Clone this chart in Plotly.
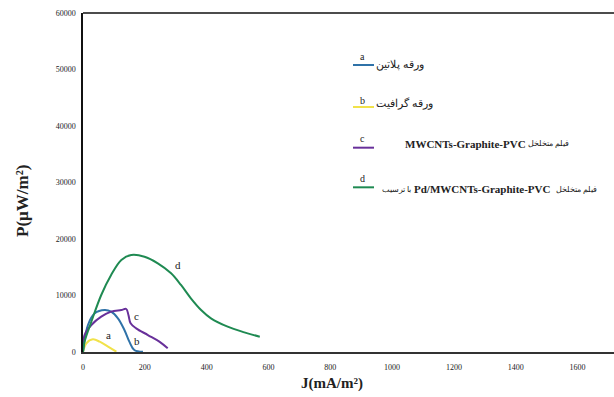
import plotly.graph_objects as go

# Power density P (µW/m²) versus current density J (mA/m²)
j_a = [0, 11, 32, 54, 81, 108]
p_a = [0, 1540, 2240, 1830, 940, 50]

j_b = [0, 16, 38, 70, 91, 113, 134, 150, 166, 194]
p_b = [0, 4780, 6840, 7430, 7140, 5960, 3900, 1830, 350, 50]

j_c = [0, 5, 27, 59, 91, 124, 140, 147, 154, 172, 210, 247, 274]
p_c = [0, 3000, 4780, 6250, 7140, 7430, 7610, 6550, 5080, 4190, 3000, 1830, 650]

j_d = [0, 5, 27, 59, 91, 124, 156, 199, 242, 285, 317, 349, 382, 414, 468, 522, 572]
p_d = [0, 1830, 5360, 10090, 13630, 16290, 17170, 16870, 15700, 13930,
       11860, 9500, 7430, 5960, 4480, 3480, 2710]

x_ticks = [0, 200, 400, 600, 800, 1000, 1200, 1400, 1600]
y_ticks = [0, 10000, 20000, 30000, 40000, 50000, 60000]

series = [
    (j_a, p_a, "#f1e24a"),
    (j_b, p_b, "#2f72a8"),
    (j_c, p_c, "#68309a"),
    (j_d, p_d, "#1f8a52"),
]

# curve tags placed next to each curve (J, P)
tags = [("a", 83, 3000), ("b", 175, 1950), ("c", 172, 6430), ("d", 306, 15400)]

serif = "Liberation Serif, Times New Roman, serif"
ink = "#222"


def rtl(s):
    return "\u202b" + s + "\u202c"


# legend rows: tag, colour, line / tag / text heights (paper), (text, x, size, bold) parts
legend_rows = [
    ("a", "#2f72a8", 0.8466, 0.871, 0.8466, [("ورقه پلاتین", 0.548, 10.5, False)]),
    ("b", "#f1e24a", 0.7227, 0.741, 0.7345, [("ورقه گرافیت", 0.548, 10.5, False)]),
    ("c", "#68309a", 0.6027, 0.630, 0.6136, [("MWCNTs-Graphite-PVC", 0.6026, 11, True),
                                             ("فیلم متخلخل", 0.834, 8, False)]),
    ("d", "#1f8a52", 0.4858, 0.512, 0.4808, [("با ترسیب", 0.559, 8, False),
                                             ("Pd/MWCNTs-Graphite-PVC", 0.6196, 11, True),
                                             ("فیلم متخلخل", 0.887, 8, False)]),
]

fig = go.Figure()
for xs, ys, col in series:
    fig.add_trace(go.Scatter(x=xs, y=ys, mode="lines",
                             line=dict(color=col, width=2, shape="spline", smoothing=1.0),
                             showlegend=False, hoverinfo="skip"))

annotations = []
for t, x, y in tags:
    annotations.append(dict(x=x, y=y, xref="x", yref="y", text=t, showarrow=False,
                            font=dict(family=serif, size=11, color=ink)))

shapes = []
for tag, col, ly, gy, ty, parts in legend_rows:
    shapes.append(dict(type="line", xref="paper", yref="paper",
                       x0=0.5085, x1=0.548, y0=ly, y1=ly,
                       line=dict(color=col, width=2)))
    annotations.append(dict(x=0.527, y=gy, xref="paper", yref="paper", text=tag,
                            showarrow=False, yanchor="middle",
                            font=dict(family=serif, size=10, color=ink)))
    for txt, x, size, bold in parts:
        label = "<b>" + txt + "</b>" if bold else rtl(txt)
        annotations.append(dict(x=x, y=ty, xref="paper", yref="paper", text=label,
                                showarrow=False, xanchor="left", yanchor="middle",
                                font=dict(family=serif, size=size, color=ink)))

# axis titles
annotations.append(dict(x=(332 - 83) / 531, y=(352 - 383) / 339, xref="paper", yref="paper",
                        text="<b>J(mA/m²)</b>", showarrow=False, yanchor="middle",
                        font=dict(family=serif, size=15, color=ink)))
annotations.append(dict(x=(22 - 83) / 531, y=(352 - 201) / 339, xref="paper", yref="paper",
                        text="<b>P(µW/m²)</b>", showarrow=False, textangle=-90,
                        xanchor="center", yanchor="middle",
                        font=dict(family=serif, size=17, color=ink)))

fig.update_layout(
    width=614, height=397,
    margin=dict(l=83, r=0, t=13, b=45),
    paper_bgcolor="white", plot_bgcolor="white",
    annotations=annotations, shapes=shapes,
    xaxis=dict(range=[0, 1718], tickvals=x_ticks, showgrid=False, zeroline=False,
               showline=True, linecolor="#333", linewidth=2, mirror=False,
               ticks="outside", ticklen=6, tickcolor="rgba(0,0,0,0)",
               tickfont=dict(family=serif, size=8, color="#222")),
    yaxis=dict(range=[0, 60000], tickvals=y_ticks, tickformat="d", showgrid=False,
               zeroline=False, showline=True, linecolor="#111", linewidth=1.5,
               ticks="outside", ticklen=4, tickcolor="rgba(0,0,0,0)",
               tickfont=dict(family=serif, size=8, color="#222")),
)
# top border of the plot frame
fig.add_shape(type="line", xref="paper", yref="paper", x0=0, x1=1, y0=1, y1=1,
              line=dict(color="#111", width=1.5))

fig.write_html("out.html")
